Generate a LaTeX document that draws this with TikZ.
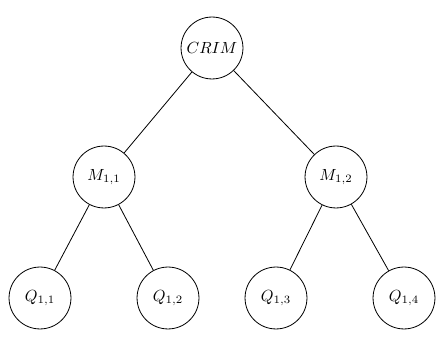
\documentclass[tikz,border=0pt]{standalone}
\begin{document}
\begin{tikzpicture}[x=0.62pt,y=-0.62pt,
  treenode/.style={draw,circle,minimum size=38.4pt,inner sep=0pt,line width=0.5pt},
  edge/.style={draw,line width=0.5pt}]
\useasboundingbox (0,0) rectangle (440,343);
\node[treenode] (crim) at (212,48) {$CRIM$};
\node[treenode] (m11) at (104,177) {$M_{1,1}$};
\node[treenode] (m12) at (336,177) {$M_{1,2}$};
\node[treenode] (q11) at (40,298) {$Q_{1,1}$};
\node[treenode] (q12) at (168,298) {$Q_{1,2}$};
\node[treenode] (q13) at (276,298) {$Q_{1,3}$};
\node[treenode] (q14) at (404,298) {$Q_{1,4}$};
\draw[edge] (crim) -- (m11);
\draw[edge] (crim) -- (m12);
\draw[edge] (m11) -- (q11);
\draw[edge] (m11) -- (q12);
\draw[edge] (m12) -- (q13);
\draw[edge] (m12) -- (q14);
\end{tikzpicture}
\end{document}
